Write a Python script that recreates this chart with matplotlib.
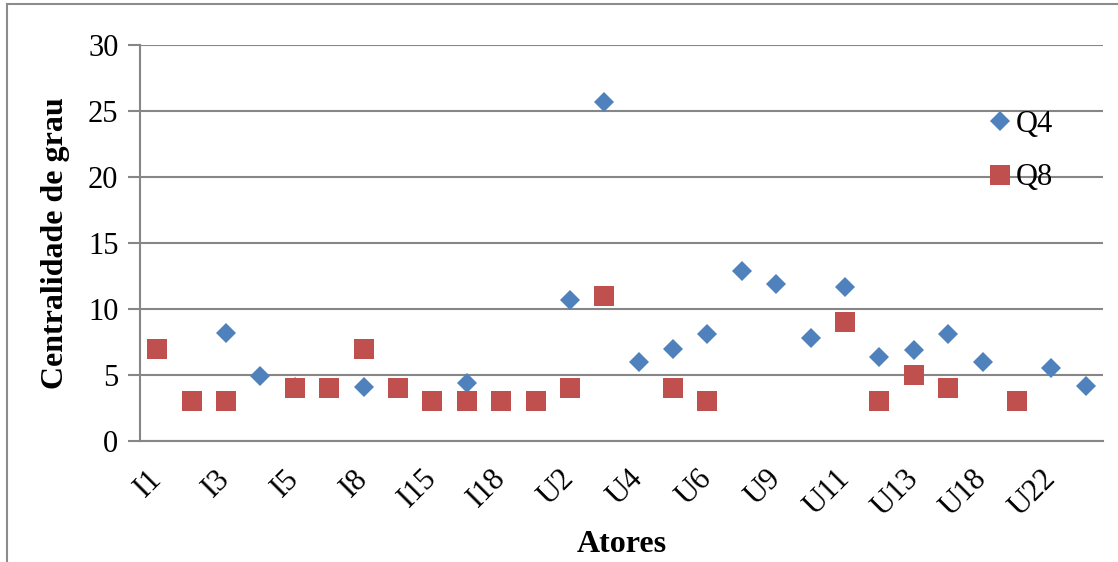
import matplotlib
matplotlib.use("Agg")
import matplotlib.pyplot as plt
from matplotlib.lines import Line2D
import numpy as np

# Actors (every second one is labelled on the axis)
tick_labels = ["I1", "I3", "I5", "I8", "I15", "I18", "U2", "U4", "U6",
               "U9", "U11", "U13", "U18", "U22"]
n_actors = 28

# Degree centrality per actor (None = no value)
q4 = [None, None, 8.2, 4.9, 4.1, None, 4.1, None, None, 4.4, None, None,
      10.7, 25.7, 6.0, 7.0, 8.1, 12.9, 11.9, 7.8, 11.7, 6.4, 6.9, 8.1,
      6.0, None, 5.5, 4.2]
q8 = [7, 3, 3, None, 4, 4, 7, 4, 3, 3, 3, 3, 4, 11, None, 4, 3, None,
      None, None, 9, 3, 5, 4, None, 3, None, None]

blue = "#4F81BD"
red = "#C0504D"
grid_col = "#868686"

plt.rcParams["font.family"] = ["Liberation Serif", "DejaVu Serif"]

W, H = 1118, 562
fig = plt.figure(figsize=(W / 100, H / 100), dpi=100)
ax = fig.add_axes([140 / W, 1 - 441 / H, 963 / W, 396 / H])

x = np.arange(n_actors)
q4_arr = np.array([np.nan if v is None else v for v in q4], dtype=float)
q8_arr = np.array([np.nan if v is None else v for v in q8], dtype=float)

ax.plot(x, q4_arr, linestyle="none", marker="D", markersize=10.3,
        color=blue, markeredgewidth=0, label="Q4", zorder=3)
ax.plot(x, q8_arr, linestyle="none", marker="s", markersize=14.8,
        color=red, markeredgewidth=0, label="Q8", zorder=4)

ax.set_xlim(-0.5, n_actors - 0.5)
ax.set_ylim(0, 30)
ax.set_yticks(np.arange(0, 31, 5))
ax.set_xticks(x[::2])
ax.set_xticklabels(tick_labels, rotation=45, ha="right", va="center",
                   rotation_mode="anchor", fontsize=22)
ax.tick_params(axis="x", length=0, pad=24)
ax.tick_params(axis="y", length=9, width=1.5, color=grid_col,
               labelsize=22, pad=6.5)

ax.yaxis.grid(True, color=grid_col, linewidth=1.5)
ax.set_axisbelow(True)
for side in ("top", "right"):
    ax.spines[side].set_visible(False)
for side in ("left", "bottom"):
    ax.spines[side].set_color(grid_col)
    ax.spines[side].set_linewidth(1.5)

ax.set_ylabel("Centralidade de grau", fontsize=23, fontweight="bold",
              va="center")
ax.yaxis.set_label_coords((56 - 140) / 963, 0.5)
ax.set_xlabel("Atores", fontsize=23, fontweight="bold", va="center")
ax.xaxis.set_label_coords(0.5, (441 - 545) / 396)

leg = ax.legend(loc="upper left", bbox_to_anchor=(990 / W, 1 - 110 / H),
                bbox_transform=fig.transFigure, frameon=False, fontsize=22,
                handlelength=0.65, handletextpad=0.2, labelspacing=0.8,
                borderpad=0, borderaxespad=0)

# Outer chart border
fig.add_artist(Line2D([7 / W, 7 / W], [0, 1 - 4 / H],
                      transform=fig.transFigure, color="#8c8c8c", linewidth=1.5))
fig.add_artist(Line2D([7 / W, 1], [1 - 4 / H, 1 - 4 / H],
                      transform=fig.transFigure, color="#8c8c8c", linewidth=1.5))

fig.savefig("out.png", dpi=100)
